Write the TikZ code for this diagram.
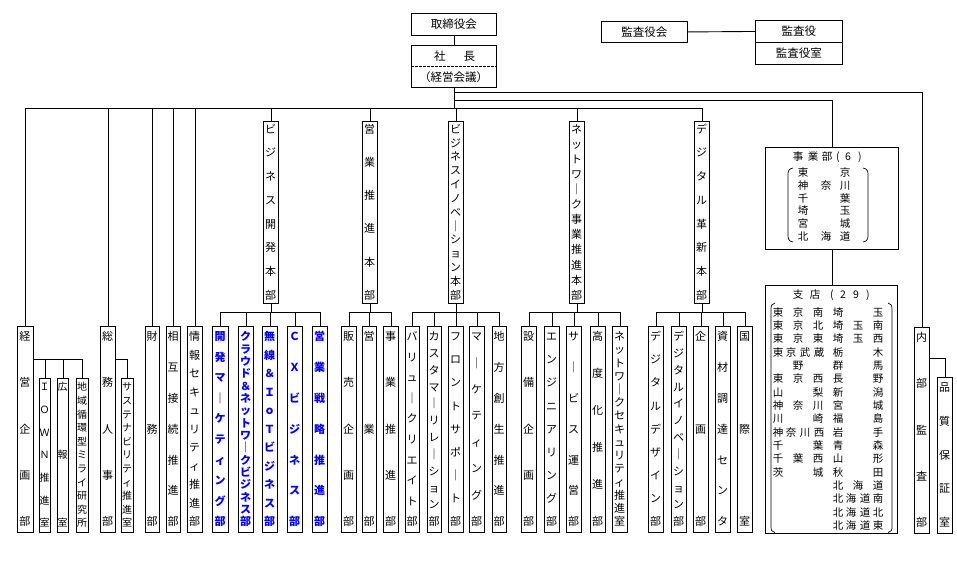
\documentclass[tikz,border=0pt]{standalone}
\usepackage{fontspec}
\setmainfont{Noto Sans CJK JP}
\tikzset{
  ln/.style={line width=0.9pt, black},
  vbox/.style={draw, line width=0.9pt, inner sep=0pt, rectangle},
  chr/.style={inner sep=0pt, font=\fontsize{11}{11}\selectfont, text height=9.7pt, text depth=1.3pt, anchor=center},
  sm/.style={font=\fontsize{10}{10}\selectfont, text height=8.8pt, text depth=1.2pt},
  bl/.style={text=blue, font=\fontsize{11}{11}\selectfont\bfseries},
  hbox/.style={draw, line width=0.9pt, inner sep=0pt, rectangle, font=\fontsize{11.5}{11.5}\selectfont, text height=10.1pt, text depth=1.4pt},
  htxt/.style={inner sep=0pt, font=\fontsize{11.5}{11.5}\selectfont, text height=10.1pt, text depth=1.4pt},
  lt/.style={inner sep=0pt, font=\fontsize{10.5}{10.5}\selectfont, text height=9.2pt, text depth=1.3pt},
}
% #1 style, #2 name, #3 xl, #4 yt, #5 xr, #6 yb, #7 inset, #8 n, #9 chars
\newcommand{\VB}[9]{%
  \node[vbox, anchor=north west, minimum width={(#5-#3)*1pt}, minimum height={(#6-#4)*1pt}] (#2) at (#3,#4) {};
  \foreach \ch [count=\i from 0] in {#9} {%
    \pgfmathsetmacro{\yy}{#4+#7+\i*(#6-#4-2*#7)/(#8-1)}%
    \node[chr,#1] (#2-\i) at ({(#3+#5)/2},\yy) {\ch};
  }%
}
\newcommand{\RB}[6]{% name, xl, yt, xr, yb, style
  \node[hbox, anchor=north west, minimum width={(#4-#2)*1pt}, minimum height={(#5-#3)*1pt}, #6] (#1) at (#2,#3) {};
}
\begin{document}
\begin{tikzpicture}[x=1pt,y=-1pt]
\useasboundingbox (0,0) rectangle (957,560);
\fill[white] (0,0) rectangle (957,560);

% ---- top boxes
\RB{tori}{411}{13}{496}{35}{}
\node[htxt] (toritxt) at (tori.center) {取締役会};
\RB{shacho}{411}{45}{496}{87}{}
\coordinate (DL) at (0,66);
\draw[line width=0.8pt, dashed, dash pattern=on 2.5pt off 1.5pt] (shacho.west |- DL) -- (shacho.east |- DL);
\node[htxt] (shachotxt) at (454.5,56) {社\hspace{18pt}長};
\node[htxt] (keieikaigi) at (453.5,77) {（経営会議）};
\RB{ksk}{601}{21}{687}{42}{}
\node[htxt] (ksktxt) at (ksk.center) {監査役会};
\RB{ksy}{755}{20}{842}{42}{}
\node[htxt] (ksytxt) at (ksy.center) {監査役};
\RB{ksys}{755}{42}{842}{64}{}
\node[htxt] (ksystxt) at (ksys.center) {監査役室};
\draw[ln] (tori.south) -- (shacho.north);
\draw[ln] (ksk.east) -- (ksy.west);

% ---- top-level vertical boxes
\VB{}{t1}{263}{121}{278}{303}{8}{8}{ビ,ジ,ネ,ス,開,発,本,部}
\VB{}{t2}{362}{121}{377}{303}{8}{6}{営,業,推,進,本,部}
\VB{}{t3}{448}{121}{463}{303}{8}{13}{ビ,ジ,ネ,ス,イ,ノ,ベ,｜,シ,ョ,ン,本,部}
\VB{}{t4}{569}{121}{584}{303}{8}{12}{ネ,ッ,ト,ワ,｜,ク,事,業,推,進,本,部}
\VB{}{t5}{694}{121}{709}{303}{8}{8}{デ,ジ,タ,ル,革,新,本,部}

% ---- left staff departments
\VB{}{keiei}{17}{326}{33}{532}{10.5}{5}{経,営,企,画,部}
\VB{sm}{iown}{39}{378}{50}{532}{9}{7}{Ｉ,Ｏ,Ｗ,Ｎ,推,進,室}
\VB{sm}{kouhou}{57}{378}{68}{532}{9}{3}{広,報,室}
\VB{sm}{chiiki}{76}{378}{88}{532}{9}{11}{地,域,循,環,型,ミ,ラ,イ,研,究,所}
\VB{}{soumu}{100}{326}{115}{532}{10.5}{5}{総,務,人,事,部}
\VB{sm}{sust}{121}{378}{133}{532}{9}{11}{サ,ス,テ,ナ,ビ,リ,テ,ィ,推,進,室}
\VB{}{zaimu}{145}{326}{159}{532}{10.5}{3}{財,務,部}
\VB{}{sougo}{166}{326}{180}{532}{10.5}{7}{相,互,接,続,推,進,部}
\VB{}{jouhou}{187}{326}{202}{532}{10.5}{11}{情,報,セ,キ,ュ,リ,テ,ィ,推,進,部}

% ---- business development (blue)
\VB{bl}{b1}{212}{326}{228}{532}{10.5}{10}{開,発,マ,｜,ケ,テ,ィ,ン,グ,部}
\VB{bl}{b2}{238}{326}{253}{532}{10.5}{16}{ク,ラ,ウ,ド,＆,ネ,ッ,ト,ワ,｜,ク,ビ,ジ,ネ,ス,部}
\VB{bl}{b3}{262}{326}{277}{532}{10.5}{11}{無,線,＆,Ｉ,ｏ,Ｔ,ビ,ジ,ネ,ス,部}
\VB{bl}{b4}{287}{326}{302}{532}{10.5}{7}{Ｃ,Ｘ,ビ,ジ,ネ,ス,部}
\VB{bl}{b5}{312}{326}{327}{532}{10.5}{7}{営,業,戦,略,推,進,部}

% ---- sales promotion
\VB{}{e1}{341}{326}{356}{532}{10.5}{5}{販,売,企,画,部}
\VB{}{e2}{362}{326}{376}{532}{10.5}{3}{営,業,部}
\VB{}{e3}{383}{326}{398}{532}{10.5}{5}{事,業,推,進,部}

% ---- business innovation
\VB{}{i1}{405}{326}{419}{532}{10.5}{10}{バ,リ,ュ,｜,ク,リ,エ,イ,ト,部}
\VB{}{i2}{427}{326}{441}{532}{10.5}{12}{カ,ス,タ,マ,｜,リ,レ,｜,シ,ョ,ン,部}
\VB{}{i3}{448}{326}{463}{532}{10.5}{9}{フ,ロ,ン,ト,サ,ポ,｜,ト,部}
\VB{}{i4}{469}{326}{484}{532}{10.5}{8}{マ,｜,ケ,テ,ィ,ン,グ,部}
\VB{}{i5}{492}{326}{506}{532}{10.5}{7}{地,方,創,生,推,進,部}

% ---- network business
\VB{}{n1}{521}{326}{536}{532}{10.5}{5}{設,備,企,画,部}
\VB{}{n2}{544}{326}{559}{532}{10.5}{9}{エ,ン,ジ,ニ,ア,リ,ン,グ,部}
\VB{}{n3}{566}{326}{581}{532}{10.5}{7}{サ,｜,ビ,ス,運,営,部}
\VB{}{n4}{590}{326}{605}{532}{10.5}{6}{高,度,化,推,進,部}
\VB{}{n5}{612}{326}{627}{532}{10.5}{15}{ネ,ッ,ト,ワ,｜,ク,セ,キ,ュ,リ,テ,ィ,推,進,室}

% ---- digital transformation
\VB{}{d1}{648}{326}{663}{532}{10.5}{9}{デ,ジ,タ,ル,デ,ザ,イ,ン,部}
\VB{}{d2}{671}{326}{686}{532}{10.5}{12}{デ,ジ,タ,ル,イ,ノ,ベ,｜,シ,ョ,ン,部}
\VB{}{d3}{693}{326}{708}{532}{10.5}{3}{企,画,部}
\VB{}{d4}{715}{326}{730}{532}{10.5}{7}{資,材,調,達,セ,ン,タ}
\VB{}{d5}{737}{326}{752}{532}{10.5}{3}{国,際,室}

% ---- audit
\VB{}{naibu}{914}{327}{929}{533}{10.5}{5}{内,部,監,査,部}
\VB{}{hin}{937}{377}{952}{533}{10.5}{5}{品,質,保,証,室}

% ---- regional business / branches
\node[vbox, anchor=north west, minimum width=133pt, minimum height=102pt] (jigyo) at (765,147) {};
\node[vbox, anchor=north west, minimum width=132pt, minimum height=248pt] (shiten) at (765,285) {};

% 事業部 content
\foreach \x/\c [count=\k] in {798/事, 813/業, 827/部, 838/(, 848/6, 860/)} {
  \node[lt] (jt\k) at (\x,157) {\c};
}
\foreach \r/\a/\b/\c [count=\k] in {0/東//京, 1/神/奈/川, 2/千//葉, 3/埼//玉, 4/宮//城, 5/北/海/道} {
  \node[lt] (ja\k) at (803,{172.3+12.9*\r}) {\a};
  \node[lt] (jb\k) at (826,{172.3+12.9*\r}) {\b};
  \node[lt] (jc\k) at (845,{172.3+12.9*\r}) {\c};
}
\draw[line width=0.7pt] (793,168) .. controls (789.5,168.5) and (788,170.5) .. (788,174) -- (788,236) .. controls (788,239.5) and (789.5,241.5) .. (793,242);
\draw[line width=0.7pt] (863,168) .. controls (866.5,168.5) and (868,170.5) .. (868,174) -- (868,236) .. controls (868,239.5) and (866.5,241.5) .. (863,242);

% 支店 content
\foreach \x/\c [count=\k] in {798/支, 815/店, 832/(, 843/2, 856/9, 868/)} {
  \node[lt] (st\k) at (\x,295) {\c};
}
\foreach \r/\a/\b/\c [count=\k] in {0/東/京/南, 1/東/京/北, 2/東/京/東, 4//野/, 5/東/京/西, 6/山//梨, 7/神/奈/川, 8/川//崎, 10/千//葉, 11/千/葉/西, 12/茨//城} {
  \node[lt] (la\k) at (778,{312.3+13.33*\r}) {\a};
  \node[lt] (lb\k) at (798,{312.3+13.33*\r}) {\b};
  \node[lt] (lc\k) at (818,{312.3+13.33*\r}) {\c};
}
\foreach \r/\a/\b/\c/\d [count=\k] in {3/東/京/武/蔵, 9/神/奈/川/西} {
  \node[lt] (lf\k) at (778,{312.3+13.33*\r}) {\a};
  \node[lt] (lg\k) at (791,{312.3+13.33*\r}) {\b};
  \node[lt] (lh\k) at (805,{312.3+13.33*\r}) {\c};
  \node[lt] (li\k) at (819,{312.3+13.33*\r}) {\d};
}
\foreach \r/\a/\b/\c [count=\k] in {0/埼//玉, 1/埼/玉/南, 2/埼/玉/西, 3/栃//木, 4/群//馬, 5/長//野, 6/新//潟, 7/宮//城, 8/福//島, 9/岩//手, 10/青//森, 11/山//形, 12/秋//田, 13/北/海/道} {
  \node[lt] (ra\k) at (838,{312.3+13.33*\r}) {\a};
  \node[lt] (rb\k) at (858,{312.3+13.33*\r}) {\b};
  \node[lt] (rc\k) at (878,{312.3+13.33*\r}) {\c};
}
\foreach \r/\d [count=\k] in {14/南, 15/北, 16/東} {
  \node[lt] (rf\k) at (838,{312.3+13.33*\r}) {北};
  \node[lt] (rg\k) at (851,{312.3+13.33*\r}) {海};
  \node[lt] (rh\k) at (865,{312.3+13.33*\r}) {道};
  \node[lt] (ri\k) at (878,{312.3+13.33*\r}) {\d};
}
\draw[line width=0.7pt] (775,303) .. controls (772,303.5) and (771,305.5) .. (771,309) -- (771,527) .. controls (771,530.5) and (772,532) .. (775,532.5);
\draw[line width=0.7pt] (888,303) .. controls (891,303.5) and (892,305.5) .. (892,309) -- (892,527) .. controls (892,530.5) and (891,532) .. (888,532.5);

% ---- connectors
\coordinate (L1) at (0,92);
\coordinate (L2) at (0,100);
\coordinate (L3) at (0,108);
\coordinate (B) at (0,312);
\coordinate (S) at (0,359);
\coordinate (S2) at (0,358);

\draw[ln] (shacho.south) -- (shacho.south |- L3);
\draw[ln] (shacho.south |- L1) -| (naibu.north);
\draw[ln] (shacho.south |- L2) -| (jigyo.north);
\draw[ln] (jigyo.south) -- (jigyo.south |- shiten.north);
\draw[ln] (keiei.north) |- (t5.north |- L3) -- (t5.north);
\foreach \n in {soumu, zaimu, sougo, jouhou, t1, t2, t3, t4} {
  \draw[ln] (\n.north) -- (\n.north |- L3);
}
% staff sub units
\draw[ln] (keiei.east |- S) -| (chiiki.north);
\draw[ln] (iown.north) -- (iown.north |- S);
\draw[ln] (kouhou.north) -- (kouhou.north |- S);
\draw[ln] (soumu.east |- S) -| (sust.north);
\draw[ln] (naibu.east |- S2) -| (hin.north);

% groups under headquarters
\foreach \p/\f/\l in {t1/b1/b5, t2/e1/e3, t3/i1/i5, t4/n1/n5, t5/d1/d5} {
  \draw[ln] (\p.south) -- (\p.south |- B);
  \draw[ln] (\f.north) |- (\l.north |- B) -- (\l.north);
}
\foreach \n in {b2, b3, b4, e2, i2, i3, i4, n2, n3, n4, d2, d3, d4} {
  \draw[ln] (\n.north) -- (\n.north |- B);
}
\end{tikzpicture}
\end{document}
